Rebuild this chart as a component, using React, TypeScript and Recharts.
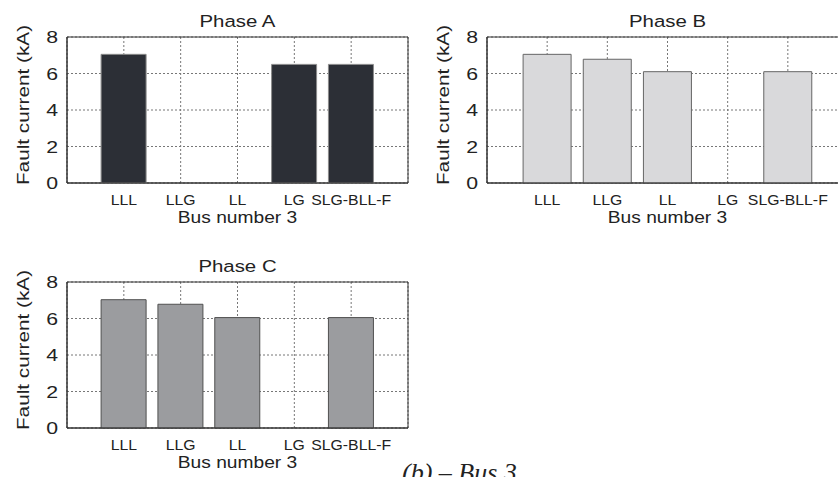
import React from "react";
import {
  BarChart,
  Bar,
  XAxis,
  YAxis,
  CartesianGrid,
  ReferenceArea,
} from "recharts";

const faultTypes = ["LLL", "LLG", "LL", "LG", "SLG-BLL-F"];
const phaseA = [7.05, 0, 0, 6.5, 6.5];
const phaseB = [7.05, 6.78, 6.1, 0, 6.1];
const phaseC = [7.03, 6.78, 6.05, 0, 6.05];
const yTicks = [0, 2, 4, 6, 8];
const xTicks = [1, 2, 3, 4, 5];

const FONT = "'Liberation Sans', Arial, sans-serif";

// text drawn a little wider than the font, like the original figure
function WideText({ x, y, k = 1.18, size = 17, angle = 0, anchor = "middle", children }: any) {
  return (
    <text
      transform={`translate(${x},${y}) rotate(${angle}) scale(${k},1)`}
      textAnchor={anchor}
      fontSize={size}
      fontFamily={FONT}
      fill="#222"
    >
      {children}
    </text>
  );
}

function PhasePanel({
  title,
  values,
  width,
  fill,
  stroke,
}: {
  title: string;
  values: number[];
  width: number;
  fill: string;
  stroke: string;
}) {
  const data = faultTypes.map((name, i) => ({ pos: i + 1, name, value: values[i] }));
  const plotLeft = 67;
  const plotRight = width - 12;
  const mid = (plotLeft + plotRight) / 2;

  return (
    <BarChart
      width={width}
      height={240}
      data={data}
      margin={{ top: 37, right: 12, bottom: 0, left: 0 }}
      barCategoryGap="10%"
    >
      <CartesianGrid stroke="#777" strokeDasharray="2 2" />
      <XAxis
        type="number"
        dataKey="pos"
        domain={[0, 6]}
        ticks={xTicks}
        interval={0}
        height={57}
        tickLine={false}
        axisLine={{ stroke: "#333" }}
        tick={(p: any) => (
          <WideText x={p.x} y={205} size={14} k={1.13}>
            {faultTypes[p.payload.value - 1]}
          </WideText>
        )}
        label={{
          content: () => (
            <WideText x={mid} y={223} k={1.13}>
              Bus number 3
            </WideText>
          ),
        }}
      />
      <YAxis
        type="number"
        domain={[0, 8]}
        ticks={yTicks}
        width={67}
        tickLine={false}
        tickSize={0}
        axisLine={{ stroke: "#333" }}
        tick={(p: any) => (
          <WideText x={58} y={p.y + 6} anchor="end" k={1.25}>
            {p.payload.value}
          </WideText>
        )}
        label={{
          content: () => (
            <WideText x={29} y={105} angle={-90} k={1.22}>
              Fault current (kA)
            </WideText>
          ),
        }}
      />
      <Bar dataKey="value" fill={fill} stroke={stroke} strokeWidth={1} isAnimationActive={false} />
      <ReferenceArea x1={0} x2={6} y1={0} y2={8} fill="none" stroke="#333" strokeWidth={1} />
      <WideText x={mid} y={27} k={1.2}>
        {title}
      </WideText>
    </BarChart>
  );
}

export default function App() {
  return (
    <div
      style={{
        position: "absolute",
        left: 0,
        top: 0,
        width: 838,
        height: 477,
        overflow: "hidden",
        background: "#fff",
      }}
    >
      <div style={{ position: "absolute", left: 0, top: 0 }}>
        <PhasePanel title="Phase A" values={phaseA} width={420} fill="#2c2f36" stroke="#8c8c8c" />
      </div>
      <div style={{ position: "absolute", left: 420, top: 0 }}>
        <PhasePanel title="Phase B" values={phaseB} width={440} fill="#d9d9db" stroke="#666" />
      </div>
      <div style={{ position: "absolute", left: 0, top: 245 }}>
        <PhasePanel title="Phase C" values={phaseC} width={420} fill="#9b9c9f" stroke="#505050" />
      </div>
      <svg
        width={838}
        height={477}
        style={{ position: "absolute", left: 0, top: 0, pointerEvents: "none" }}
      >
        <text
          x={402}
          y={481}
          fontSize={26}
          fontStyle="italic"
          fontFamily="'Liberation Serif', 'Times New Roman', serif"
          fill="#222"
        >
          (b) – Bus 3
        </text>
      </svg>
    </div>
  );
}
